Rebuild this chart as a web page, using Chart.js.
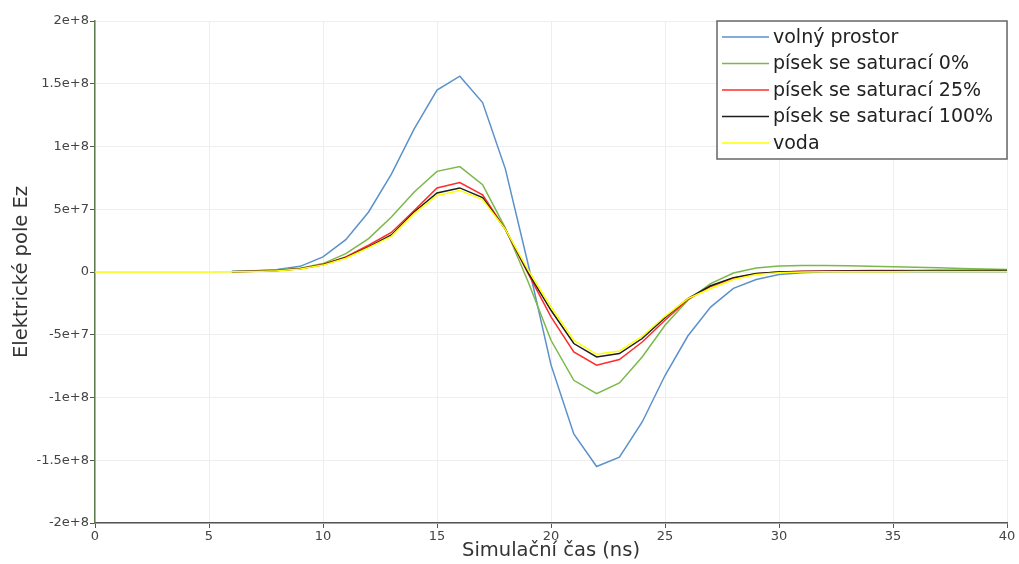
<!DOCTYPE html>
<html>
<head>
<meta charset="utf-8">
<script src="https://cdn.jsdelivr.net/npm/chart.js@4"></script>
<style>
	html, body { margin: 0; padding: 0; background: #fff; }
</style>
</head>
<body>
<canvas id="grafica" width="1019" height="564"></canvas>
<script>
	// cas simulace (ns)
	const casy = [0,1,2,3,4,5,6,7,8,9,10,11,12,13,14,15,16,17,18,19,20,21,22,23,24,25,26,27,28,29,30,31,32,33,34,35,36,37,38,39,40];

	const nazvy = ["volný prostor", "písek se saturací 0%", "písek se saturací 25%", "písek se saturací 100%", "voda"];
	const barvy = ["#5b91cb", "#7bb84a", "#ff2b2b", "#1e1e1e", "#ffff00"];

	// hodnoty Ez v jednotkach 1e6
	const volnyProstor = [null,null,null,null,null,null,0.5,1,2,4.5,12,25.8,47.8,78,114,145,156,135,82,6,-74,-129,-155,-147.5,-119.5,-82.5,-51,-28,-13,-6,-2,-0.6,0,0.2,0.2,0.2,0.2,0.2,0.2,0.2,0.2];
	const pisek0 = [null,null,null,null,null,null,0.3,0.7,1.5,3,6.7,14.6,26.6,43.8,63.7,80.2,84,69.6,35,-8,-54.4,-86.3,-96.9,-88.4,-67.7,-42.5,-22.5,-9.3,-0.8,3.2,4.8,5.2,5.2,5,4.6,4.2,3.8,3.3,2.8,2.4,2];
	const pisek25 = [null,null,null,null,null,null,0.2,0.5,1.2,2.6,6.1,12,21.3,31.5,49,67,71.2,61.5,34,-1.3,-35.8,-63.7,-74.3,-69.8,-55.8,-38.5,-22,-11.5,-5,-1.3,0,0.5,0.8,1,1.1,1.2,1.2,1.3,1.3,1.3,1.3];
	const pisek100 = [null,null,null,null,null,null,0.2,0.5,1.1,2.5,5.8,11.5,20,29.5,47.8,63,67,59.3,34,-0.5,-30.5,-57,-67.7,-65,-53,-36.4,-21.2,-11,-4.5,-1.2,0,0.4,0.6,0.7,0.8,0.8,0.9,0.9,0.9,1,1];
	const voda = [0,0,0,0,0,0,0.2,0.4,1,2.3,5.5,11,19.4,28.4,46.5,61,65,57.7,34,1.4,-27.9,-54.4,-65.6,-62.9,-51.2,-35.3,-21.2,-13.2,-6,-2,-0.5,0,0.1,0.2,0.2,0.2,0.3,0.3,0.3,0.3,0.3];

	const rady = [volnyProstor, pisek0, pisek25, pisek100, voda];

	const pismo = "'DejaVu Sans', sans-serif";

	const legendaBox = {
		id: "legendaBox",
		afterDraw(chart) {
			const c = chart.ctx;
			const area = chart.chartArea;
			const sirka = 290;
			const vyska = 138;
			const x0 = area.right - sirka;
			const y0 = area.top;
			c.save();
			c.fillStyle = "#fff";
			c.fillRect(x0, y0, sirka, vyska);
			c.strokeStyle = "#666";
			c.lineWidth = 1.5;
			c.strokeRect(x0, y0, sirka, vyska);
			c.font = "19px " + pismo;
			c.textBaseline = "middle";
			c.fillStyle = "#222";
			chart.data.datasets.forEach((ds, i) => {
				const y = y0 + 16 + i * 26.5;
				c.strokeStyle = ds.borderColor;
				c.lineWidth = 1.5;
				c.beginPath();
				c.moveTo(x0 + 5, y);
				c.lineTo(x0 + 52, y);
				c.stroke();
				c.fillText(ds.label, x0 + 56, y + 1);
			});
			c.restore();
		},
	};

	const ctx = document.getElementById("grafica");

	new Chart(ctx, {
		type: "line",
		data: {
			datasets: rady.map((rada, i) => ({
				label: nazvy[i],
				data: casy.map((t, j) => ({ x: t, y: rada[j] === null ? null : rada[j] * 1e6 })),
				borderColor: barvy[i],
				backgroundColor: barvy[i],
				borderWidth: 1.5,
				pointRadius: 0,
				tension: 0,
				fill: false,
				order: rady.length - i,
			})),
		},
		options: {
			responsive: false,
			animation: false,
			devicePixelRatio: 1,
			layout: {
				padding: { top: 21, right: 12, left: 0, bottom: 0 },
			},
			plugins: {
				legend: { display: false },
				tooltip: { enabled: false },
			},
			scales: {
				x: {
					type: "linear",
					min: 0,
					max: 40,
					ticks: {
						stepSize: 5,
						padding: 1,
						color: "#444",
						font: { family: pismo, size: 13 },
						maxRotation: 0,
					},
					grid: {
						color: "#eeeeee",
						tickColor: "#555",
						tickLength: 5,
					},
					border: { color: "#555", width: 1.5 },
					title: {
						display: true,
						text: "Simulační čas (ns)",
						color: "#333",
						font: { family: pismo, size: 19.5 },
						padding: { top: 0, bottom: 1 },
					},
					afterFit(scale) {
						scale.height = 41;
					},
				},
				y: {
					min: -2e8,
					max: 2e8,
					ticks: {
						stepSize: 5e7,
						padding: 1,
						color: "#444",
						font: { family: pismo, size: 13 },
						callback: (v) => (v === 0 ? "0" : Number(v).toExponential()),
					},
					grid: {
						color: "#eeeeee",
						tickColor: "#555",
						tickLength: 5,
					},
					border: { color: "#5f7d4c", width: 1.5 },
					title: {
						display: true,
						text: "Elektrické pole Ez",
						color: "#333",
						font: { family: pismo, size: 19.5 },
						padding: { top: 10, bottom: 0 },
					},
					afterFit(scale) {
						scale.width = 95;
					},
				},
			},
		},
		plugins: [legendaBox],
	});
</script>
</body>
</html>
